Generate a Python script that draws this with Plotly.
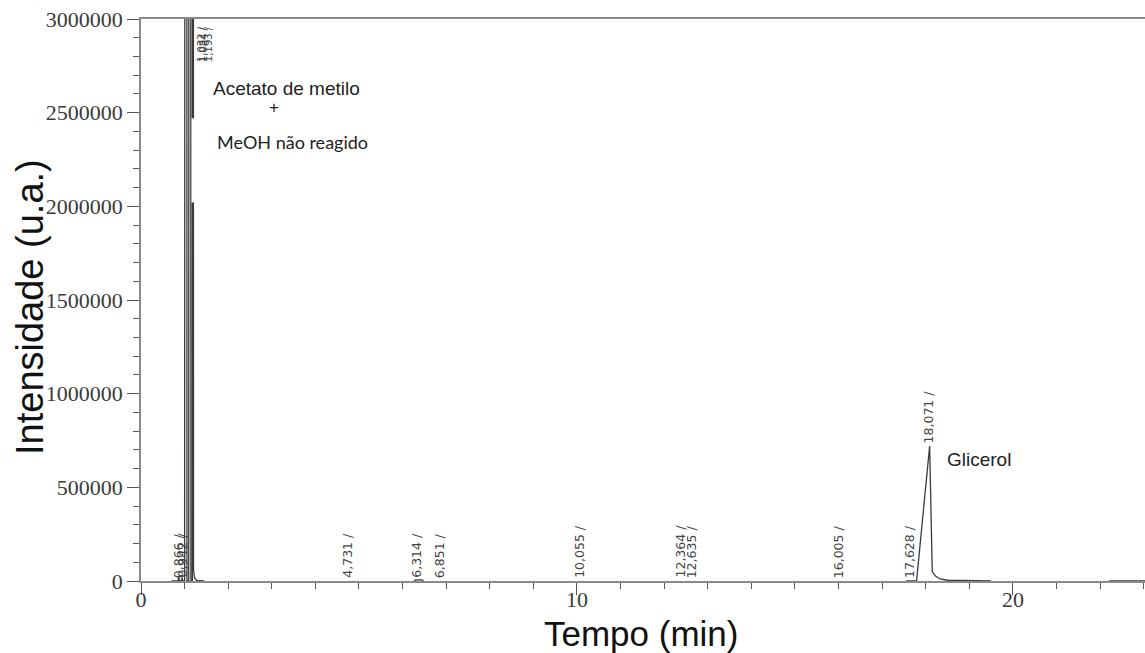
import plotly.graph_objects as go

# Chromatogram trace (segments separated by None)
time_min = [0.70, 0.85, 0.866, 0.88, 0.93, 0.942, 0.955, 1.000, 1.010, 1.050, 1.055,
            1.095, 1.100, 1.140, 1.145, 1.178, 1.183, 1.200, 1.205, 1.230, 1.280, 1.450,
            None, 6.26, 6.30, 6.45, 6.48,
            None, 17.55, 17.79, 18.09, 18.15, 18.23, 18.33, 18.50, 18.80, 19.20, 19.50,
            None, 22.20, 23.10]
intensity = [0, 0, 25000, 0, 0, 20000, 0, 0, 6.5e6, 6.5e6, 0,
             0, 6.5e6, 6.5e6, 0, 0, 6.5e6, 6.5e6, 60000, 15000, 3000, 0,
             None, 0, 6000, 6000, 0,
             None, 0, 0, 720000, 50000, 25000, 11000, 4000, 3000, 2000, 1000,
             None, 0, 0]

# Peak retention-time labels (bottom/at peak)
peak_times = [0.866, 0.942, 4.731, 6.314, 6.851, 10.055, 12.364, 12.635, 16.005, 17.628, 18.071]
peak_heights = [0, 0, 0, 0, 0, 0, 0, 0, 0, 0, 720000]
peak_texts = ["0,866 /", "0,942 /", "4,731 /", "6,314 /", "6,851 /", "10,055 /",
              "12,364 /", "12,635 /", "16,005 /", "17,628 /", "18,071 /"]

# Off-scale peak labels (drawn at top)
top_times = [1.032, 1.084, 1.193]
top_texts = ["1,032 /", "1,084 /", "1,193 /"]

y_ticks = [0, 500000, 1000000, 1500000, 2000000, 2500000, 3000000]
x_ticks = [0, 10, 20]

fig = go.Figure()
fig.add_trace(go.Scatter(x=time_min, y=intensity, mode="lines",
                         line=dict(color="#3a3a3a", width=1.3),
                         connectgaps=False, showlegend=False, hoverinfo="skip"))

axis_line = "#8a8a8a"
tick_col = "#555555"
tick_font = dict(family="Liberation Serif, Times New Roman, serif", size=22, color="#3a3a3a")

fig.update_xaxes(range=[0, 23.03], tickvals=x_ticks, ticks="outside", ticklen=12,
                 tickwidth=1.3, tickcolor=tick_col, showline=True, linecolor=axis_line,
                 linewidth=2, mirror=True, showgrid=False, zeroline=False,
                 tickfont=tick_font, ticklabelstandoff=-14,
                 minor=dict(dtick=1, ticks="outside", ticklen=6, tickcolor=tick_col,
                            tickwidth=1.3, showgrid=False))
fig.update_yaxes(range=[0, 3000000], tickvals=y_ticks, tickformat="d", ticks="outside",
                 ticklen=12, tickwidth=1.3, tickcolor=tick_col, showline=True,
                 linecolor=axis_line, linewidth=1.5, showgrid=False, zeroline=False,
                 tickfont=tick_font,
                 minor=dict(dtick=100000, ticks="outside", ticklen=6, tickcolor=tick_col,
                            tickwidth=1.3, showgrid=False))

# white box behind the "MeOH não reagido" label
fig.add_shape(type="rect", xref="x", yref="y", x0=1.16, x1=5.6, y0=2020000, y1=2470000,
              fillcolor="white", line=dict(width=0), layer="above")

label_font = dict(family="DejaVu Sans, sans-serif", size=12.5, color="#444444")
for t, h, txt in zip(peak_times, peak_heights, peak_texts):
    fig.add_annotation(x=t, y=h, text=txt, showarrow=False, textangle=-90,
                       xanchor="center", yanchor="bottom", yshift=1, font=label_font)
for t, txt in zip(top_times, top_texts):
    fig.add_annotation(x=t, y=3000000, text=txt, showarrow=False, textangle=-90,
                       xanchor="center", yanchor="top", xshift=15, yshift=-5,
                       font=dict(family="DejaVu Sans, sans-serif", size=10, color="#444444"))

sans = "Liberation Sans, Arial, sans-serif"
fig.add_annotation(xref="paper", yref="paper", x=(286 - 141) / 1004, y=(581 - 88) / 562,
                   text="Acetato de metilo", showarrow=False, xanchor="center", yanchor="middle",
                   font=dict(family=sans, size=19, color="#222222"))
fig.add_annotation(xref="paper", yref="paper", x=(274 - 141) / 1004, y=(581 - 107) / 562,
                   text="+", showarrow=False, xanchor="center", yanchor="middle",
                   font=dict(family=sans, size=17, color="#222222"))
fig.add_annotation(xref="paper", yref="paper", x=(292 - 141) / 1004, y=(581 - 142) / 562,
                   text="MeOH não reagido", showarrow=False, xanchor="center", yanchor="middle",
                   font=dict(family="Lato, Open Sans, sans-serif", size=18, color="#222222"))
fig.add_annotation(x=18.45, y=650000, text="Glicerol", showarrow=False,
                   xanchor="left", yanchor="middle",
                   font=dict(family=sans, size=19, color="#222222"))

# axis titles
fig.add_annotation(xref="paper", yref="paper", x=(641 - 141) / 1004, y=-(633 - 581) / 562,
                   text="Tempo (min)", showarrow=False, xanchor="center", yanchor="middle",
                   font=dict(family=sans, size=35, color="#111111"))
fig.add_annotation(xref="paper", yref="paper", x=(30 - 141) / 1004, y=(581 - 307) / 562,
                   text="Intensidade (u.a.)", showarrow=False, textangle=-90,
                   xanchor="center", yanchor="middle",
                   font=dict(family=sans, size=38, color="#111111"))

fig.update_layout(width=1145, height=653, margin=dict(l=141, r=0, t=19, b=72),
                  plot_bgcolor="white", paper_bgcolor="white", showlegend=False)

fig.write_html("out.html")
